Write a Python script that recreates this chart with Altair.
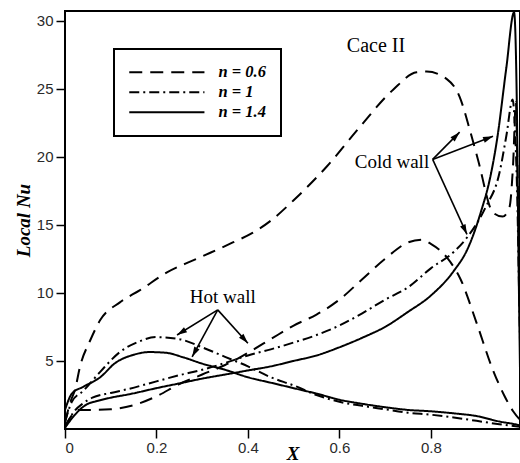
import math
import altair as alt
import pandas as pd

# ---- local Nusselt number along the walls, Case II ----
# n = 0.6, cold wall
x_d_cold = [0.0, 0.012, 0.022, 0.033, 0.055, 0.077, 0.12, 0.164, 0.223, 0.295, 0.367, 0.41,
            0.45, 0.5, 0.573, 0.645, 0.717, 0.769, 0.791, 0.835, 0.863, 0.885, 0.903, 0.936,
            0.957, 0.972, 0.98, 0.986, 0.99, 0.994, 1.0]
nu_d_cold = [0.5, 2.0, 2.9, 4.6, 6.5, 8.0, 9.3, 10.2, 11.5, 12.6, 13.7, 14.4,
             15.3, 16.8, 19.3, 22.2, 24.9, 26.2, 26.25, 25.7, 24.4, 22.0, 19.8, 15.9,
             15.6, 16.3, 19.5, 24.0, 18.0, 11.0, 2.0]
# n = 0.6, hot wall
x_d_hot = [0.0, 0.015, 0.03, 0.05, 0.1, 0.15, 0.2, 0.25, 0.3, 0.35, 0.4, 0.45, 0.5, 0.55,
           0.6, 0.65, 0.7, 0.75, 0.78, 0.8, 0.835, 0.865, 0.9, 0.935, 0.96, 0.98, 1.0]
nu_d_hot = [0.2, 1.0, 1.4, 1.4, 1.45, 1.75, 2.4, 3.3, 4.0, 4.7, 5.6, 6.6, 7.6, 8.4,
            9.5, 11.0, 12.5, 13.7, 13.9, 13.6, 12.6, 11.0, 7.8, 4.4, 2.5, 1.3, 0.5]
# n = 1, cold wall
x_dd_cold = [0.0, 0.018, 0.04, 0.06, 0.1, 0.14, 0.2, 0.25, 0.3, 0.35, 0.4, 0.45, 0.5, 0.55,
             0.6, 0.65, 0.7, 0.75, 0.8, 0.85, 0.88, 0.92, 0.95, 0.965, 0.979, 0.984, 0.989,
             0.993, 0.997]
nu_dd_cold = [0.1, 1.2, 1.9, 2.3, 2.65, 2.95, 3.5, 3.95, 4.35, 4.85, 5.4, 5.85, 6.35, 6.9,
              7.6, 8.5, 9.5, 10.4, 11.8, 13.0, 14.1, 16.3, 18.8, 21.5, 24.2, 22.0, 17.0,
              10.0, 3.0]
# n = 1, hot wall
x_dd_hot = [0.0, 0.015, 0.04, 0.077, 0.12, 0.16, 0.2, 0.25, 0.3, 0.35, 0.4, 0.45, 0.5, 0.55,
            0.6, 0.65, 0.7, 0.75, 0.8, 0.85, 0.9, 0.95, 1.0]
nu_dd_hot = [0.5, 2.0, 2.8, 4.2, 5.65, 6.4, 6.75, 6.6, 6.0, 5.3, 4.6, 3.8, 3.2, 2.5,
             2.0, 1.7, 1.45, 1.2, 1.05, 0.85, 0.6, 0.35, 0.15]
# n = 1.4, cold wall
x_s_cold = [0.0, 0.018, 0.035, 0.05, 0.07, 0.1, 0.14, 0.2, 0.25, 0.3, 0.35, 0.4, 0.45, 0.5,
            0.55, 0.6, 0.65, 0.7, 0.75, 0.8, 0.85, 0.88, 0.91, 0.93, 0.945, 0.965, 0.982,
            0.988, 0.992, 0.996]
nu_s_cold = [0.1, 0.9, 1.5, 1.85, 2.05, 2.3, 2.55, 3.0, 3.35, 3.7, 4.0, 4.3, 4.6, 5.0,
             5.4, 6.0, 6.7, 7.5, 8.6, 9.8, 11.6, 13.2, 16.0, 18.5, 21.3, 26.5, 30.6,
             24.0, 12.0, 2.0]
# n = 1.4, hot wall
x_s_hot = [0.0, 0.015, 0.04, 0.077, 0.11, 0.15, 0.185, 0.22, 0.26, 0.3, 0.35, 0.4, 0.45,
           0.5, 0.55, 0.6, 0.65, 0.7, 0.75, 0.8, 0.85, 0.9, 0.95, 0.99, 1.0]
nu_s_hot = [1.4, 2.6, 3.1, 3.8, 4.85, 5.45, 5.65, 5.6, 5.25, 4.8, 4.35, 3.8, 3.4,
            3.0, 2.6, 2.15, 1.85, 1.6, 1.4, 1.3, 1.15, 0.95, 0.55, 0.3, 0.2]

legend_labels = ["n = 0.6", "n = 1", "n = 1.4"]
dash_patterns = [[13, 8], [10, 4, 2, 4], [1, 0]]

curves = [
    ("n = 0.6", "cold", x_d_cold, nu_d_cold),
    ("n = 0.6", "hot", x_d_hot, nu_d_hot),
    ("n = 1", "cold", x_dd_cold, nu_dd_cold),
    ("n = 1", "hot", x_dd_hot, nu_dd_hot),
    ("n = 1.4", "cold", x_s_cold, nu_s_cold),
    ("n = 1.4", "hot", x_s_hot, nu_s_hot),
]
rows = []
for n_lab, wall, xs, ys in curves:
    for i, (xv, yv) in enumerate(zip(xs, ys)):
        rows.append({"X": xv, "Nu": yv, "n": n_lab, "curve": f"{n_lab} {wall}", "i": i})
df = pd.DataFrame(rows)

# annotation texts
note_text = ["Cace II", "Cold wall", "Hot wall"]
note_x = [0.68, 0.715, 0.345]
note_y = [28.1, 19.6, 9.7]
note_size = [20, 19, 19]

# arrows: start (label anchor) -> tip on a curve
arr_x0 = [0.804, 0.804, 0.804, 0.334, 0.334, 0.334]
arr_y0 = [19.8, 19.8, 19.8, 8.75, 8.75, 8.75]
arr_x1 = [0.863, 0.936, 0.879, 0.245, 0.278, 0.40]
arr_y1 = [21.8, 21.5, 14.3, 6.9, 5.3, 6.3]

W, H = 455, 418
X_MAX, Y_MAX = 0.995, 30.7
sx, sy = W / X_MAX, H / Y_MAX

angles = []
for a, b, c, d in zip(arr_x0, arr_y0, arr_x1, arr_y1):
    dx = (c - a) * sx
    dys = -(d - b) * sy
    angles.append(math.degrees(math.atan2(dx, -dys)) % 360)
arrows = pd.DataFrame({"x0": arr_x0, "y0": arr_y0, "x1": arr_x1, "y1": arr_y1, "ang": angles})
notes = pd.DataFrame({"t": note_text, "x": note_x, "y": note_y, "s": note_size})

xs = alt.Scale(domain=[0, X_MAX], nice=False, zero=False)
ys = alt.Scale(domain=[0, Y_MAX], nice=False)

serif = "Liberation Serif"
sans = "Liberation Sans"

# long horizontal legend sample line drawn from a small symbol size
legend_line = "M-2,0L16.8,0"

lines = alt.Chart(df).mark_line(color="black", strokeWidth=2, clip=True,
                                interpolate="monotone").encode(
    x=alt.X("X:Q", scale=xs, title="X",
            axis=alt.Axis(values=[0, 0.2, 0.4, 0.6, 0.8], format=".1~f")),
    y=alt.Y("Nu:Q", scale=ys, title="Local Nu",
            axis=alt.Axis(values=[5, 10, 15, 20, 25, 30])),
    strokeDash=alt.StrokeDash(
        "n:N",
        scale=alt.Scale(domain=legend_labels, range=dash_patterns),
        legend=alt.Legend(title=None, orient="none", legendX=49, legendY=38,
                          symbolType=legend_line, symbolSize=64, symbolStrokeWidth=2,
                          symbolStrokeColor="black", labelFont=serif,
                          labelFontStyle="italic", labelFontWeight="bold",
                          labelFontSize=16.5, labelColor="black", labelOffset=73,
                          padding=15, rowPadding=3, strokeColor="black",
                          fillColor="white")),
    detail="curve:N",
    order="i:Q",
)

texts = alt.Chart(notes).mark_text(font=serif, color="black").encode(
    x=alt.X("x:Q", scale=xs),
    y=alt.Y("y:Q", scale=ys),
    text="t:N",
    size=alt.Size("s:Q", scale=None, legend=None),
)

shafts = alt.Chart(arrows).mark_rule(color="black", strokeWidth=1.6).encode(
    x=alt.X("x0:Q", scale=xs), y=alt.Y("y0:Q", scale=ys),
    x2="x1:Q", y2="y1:Q",
)

heads = alt.Chart(arrows).mark_point(
    shape="M0,0L-0.6,2L0.6,2Z", filled=True, color="black", size=100, opacity=1
).encode(
    x=alt.X("x1:Q", scale=xs), y=alt.Y("y1:Q", scale=ys),
    angle=alt.Angle("ang:Q", scale=None),
)

chart = alt.layer(lines, shafts, heads, texts).properties(
    width=W, height=H,
    autosize=alt.AutoSizeParams(type="none"),
    padding={"left": 65, "top": 11, "right": 0, "bottom": 34},
    background="white",
).configure_view(
    stroke="black", strokeWidth=2,
).configure_axis(
    domain=False, grid=False,
    tickColor="black", tickWidth=1.5, tickSize=9,
    labelFont=sans, labelFontSize=15, labelColor="#2a2a2a",
    titleFont=serif, titleFontStyle="italic", titleFontWeight="bold",
    titleFontSize=19, titleColor="black",
).configure_axisY(
    labelPadding=3, titlePadding=3,
).configure_axisX(
    labelPadding=2, titleY=15,
).configure_legend(
    strokeWidth=2,
)

chart.save("out.html", embed_options={"renderer": "svg", "actions": False})
